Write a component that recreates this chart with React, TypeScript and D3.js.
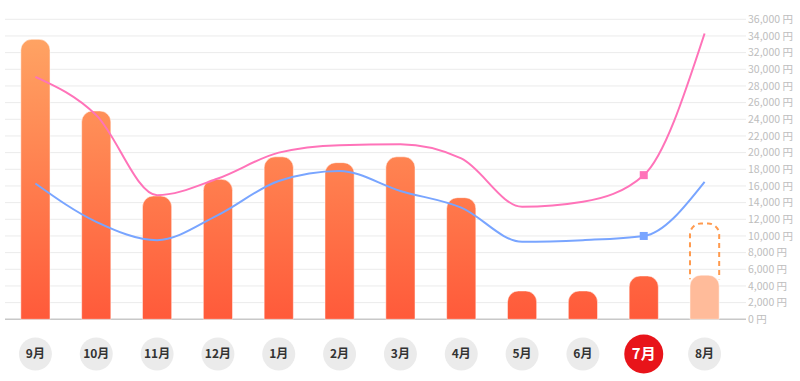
import React from "react";
import * as d3 from "d3";

const months = ["9月", "10月", "11月", "12月", "1月", "2月", "3月", "4月", "5月", "6月", "7月", "8月"];
const barValues = [33600, 25000, 14800, 16800, 19500, 18800, 19500, 14600, 3400, 3400, 5200, 5300];
const forecastValue = 11500; // dashed outline for 8月
const pinkValues = [29100, 24500, 14900, 16900, 20000, 20900, 21000, 19300, 13500, 14100, 17300, 34300];
const blueValues = [16300, 11700, 9500, 12500, 16600, 17800, 15400, 13400, 9300, 9500, 10000, 16500];
const yTicks = d3.range(0, 36001, 2000);
const currentIndex = 10;
const forecastIndex = 11;

const W = 800;
const H = 381;

export default function App() {
  const x = d3.scaleBand<string>().domain(months).range([5, 735]).paddingInner(0.52).paddingOuter(0.26);
  const y = d3.scaleLinear().domain([0, 36000]).range([319.3, 19.3]);
  const bw = x.bandwidth();
  const cx = (m: string) => (x(m) as number) + bw / 2;
  const r = 11;

  const barPath = (m: string, v: number, closed = true) => {
    const x0 = x(m) as number;
    const x1 = x0 + bw;
    const yt = y(v);
    const yb = y(0);
    const rr = Math.min(r, yb - yt);
    const p = d3.path();
    p.moveTo(x0, yb);
    p.lineTo(x0, yt + rr);
    p.arcTo(x0, yt, x0 + rr, yt, rr);
    p.lineTo(x1 - rr, yt);
    p.arcTo(x1, yt, x1, yt + rr, rr);
    p.lineTo(x1, yb);
    if (closed) p.closePath();
    return p.toString();
  };

  const line = d3
    .line<number>()
    .x((_, i) => cx(months[i]))
    .y((d) => y(d))
    .curve(d3.curveMonotoneX);

  const gridX0 = 5;
  const gridX1 = 746;
  const font = "'Noto Sans CJK JP', 'Noto Sans', sans-serif";
  const fm = months[forecastIndex];

  return (
    <svg width={W} height={H} style={{ position: "absolute", left: 0, top: 0, display: "block" }}>
      <defs>
        <linearGradient id="barGrad" gradientUnits="userSpaceOnUse" x1="0" y1={y(36000)} x2="0" y2={y(0)}>
          <stop offset="0%" stopColor="#FFA866" />
          <stop offset="100%" stopColor="#FF5A3A" />
        </linearGradient>
        <clipPath id="fcClip">
          <rect x={0} y={0} width={W} height={y(barValues[forecastIndex]) + 4} />
        </clipPath>
      </defs>
      <rect x={0} y={0} width={W} height={H} fill="#fff" />
      {yTicks.map((t) => (
        <g key={t}>
          <line
            x1={gridX0}
            x2={gridX1}
            y1={y(t)}
            y2={y(t)}
            stroke={t === 0 ? "#c8c8c8" : "#ebebeb"}
            strokeWidth={t === 0 ? 1.5 : 1}
          />
          <text x={748} y={y(t)} dy="0.35em" fontSize={10.5} fill="#bdbdbd" fontFamily={font}>
            {d3.format(",")(t) + " 円"}
          </text>
        </g>
      ))}
      <path
        d={barPath(fm, forecastValue, false)}
        fill="none"
        stroke="#FF9A4E"
        strokeWidth={2}
        strokeDasharray="5,4"
        clipPath="url(#fcClip)"
      />
      {months.map((m, i) => (
        <path
          key={m}
          d={barPath(m, barValues[i])}
          fill={i === forecastIndex ? "#FFBB9A" : "url(#barGrad)"}
          stroke="#fff"
          strokeOpacity={0.5}
          strokeWidth={1}
        />
      ))}
      <path d={line(pinkValues) as string} fill="none" stroke="#FF73B9" strokeWidth={2} />
      <path d={line(blueValues) as string} fill="none" stroke="#79A5FF" strokeWidth={2} />
      <rect x={cx(months[currentIndex]) - 4} y={y(pinkValues[currentIndex]) - 4} width={8} height={8} fill="#FF73B9" />
      <rect x={cx(months[currentIndex]) - 4} y={y(blueValues[currentIndex]) - 4} width={8} height={8} fill="#79A5FF" />
      {months.map((m, i) => {
        const cur = i === currentIndex;
        return (
          <g key={"lbl" + m} transform={`translate(${cx(m)},354)`}>
            <circle r={cur ? 19.5 : 16.5} fill={cur ? "#E8141A" : "#ebebeb"} />
            <text
              textAnchor="middle"
              dy="0.36em"
              fontSize={cur ? 15 : 12}
              fontWeight="bold"
              fill={cur ? "#fff" : "#333"}
              fontFamily={font}
            >
              {m}
            </text>
          </g>
        );
      })}
    </svg>
  );
}
